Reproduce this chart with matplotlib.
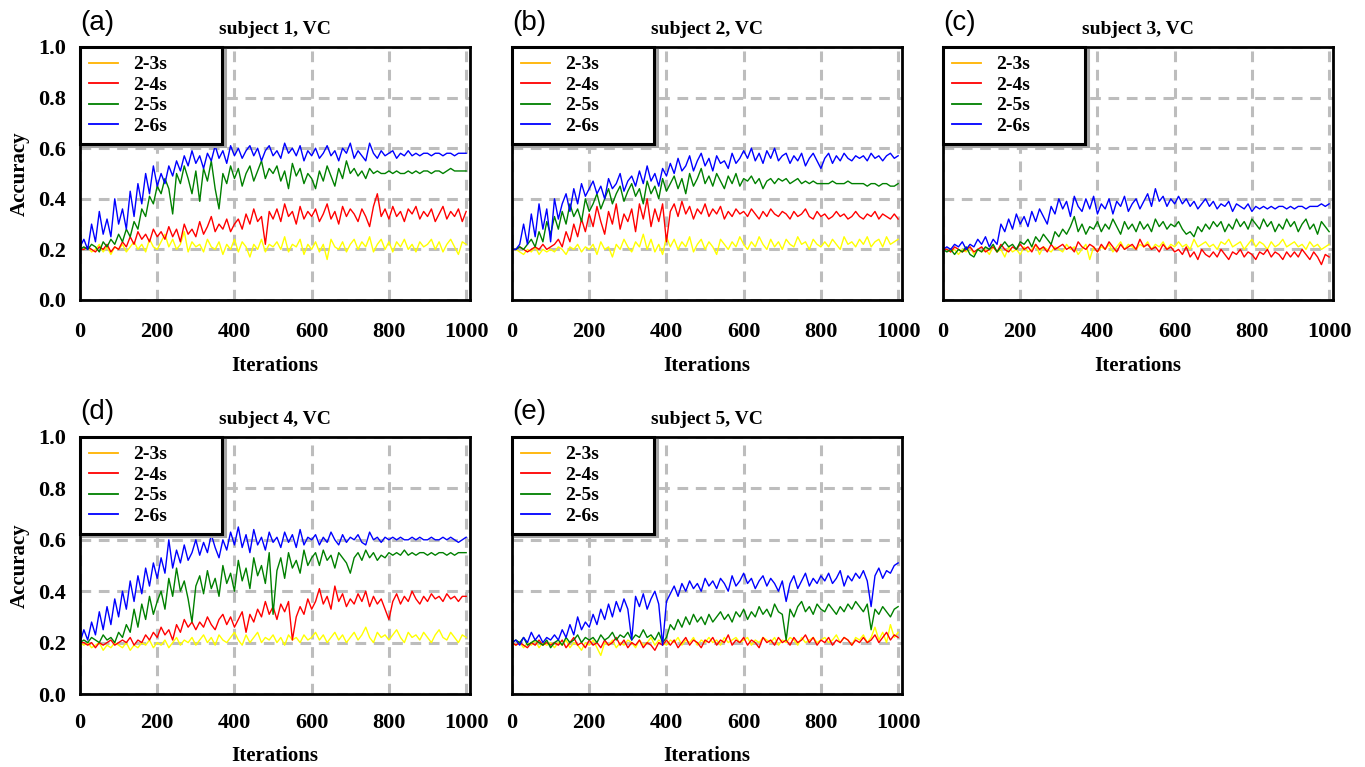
import numpy as np
import matplotlib
matplotlib.use("Agg")
import matplotlib.pyplot as plt
from matplotlib.lines import Line2D

# iterations sampled every 10 steps (0..1000)
iterations = np.arange(0, 1001, 10)
labels = ["2-3s", "2-4s", "2-5s", "2-6s"]
titles = ["subject 1, VC", "subject 2, VC", "subject 3, VC", "subject 4, VC", "subject 5, VC"]
panel_tags = ["(a)", "(b)", "(c)", "(d)", "(e)"]

# ---- subject 1 ----
s1_23 = [0.20,0.20,0.21,0.19,0.20,0.22,0.19,0.21,0.18,0.21,0.20,
         0.22,0.19,0.21,0.23,0.20,0.22,0.19,0.24,0.21,0.20,
         0.23,0.26,0.21,0.24,0.20,0.22,0.27,0.19,0.23,0.21,
         0.22,0.19,0.24,0.21,0.20,0.23,0.18,0.22,0.20,0.24,
         0.19,0.23,0.21,0.17,0.22,0.20,0.24,0.19,0.22,0.21,
         0.23,0.20,0.25,0.19,0.22,0.21,0.24,0.18,0.22,0.20,
         0.23,0.19,0.22,0.16,0.24,0.21,0.20,0.23,0.19,0.22,
         0.24,0.20,0.23,0.21,0.25,0.19,0.22,0.24,0.20,0.23,
         0.19,0.23,0.21,0.24,0.20,0.22,0.19,0.23,0.21,0.22,
         0.24,0.20,0.23,0.19,0.22,0.24,0.21,0.18,0.23,0.22]
s1_24 = [0.20,0.20,0.21,0.20,0.19,0.21,0.20,0.22,0.19,0.21,0.20,
         0.23,0.21,0.25,0.22,0.27,0.24,0.26,0.23,0.28,0.25,
         0.27,0.24,0.29,0.25,0.28,0.23,0.30,0.26,0.28,0.25,
         0.31,0.26,0.29,0.33,0.27,0.30,0.28,0.32,0.27,0.30,
         0.32,0.28,0.34,0.30,0.36,0.31,0.33,0.22,0.35,0.32,
         0.36,0.31,0.38,0.33,0.35,0.30,0.37,0.32,0.35,0.33,
         0.36,0.31,0.34,0.38,0.32,0.35,0.30,0.37,0.33,0.36,
         0.34,0.31,0.36,0.33,0.29,0.37,0.42,0.33,0.36,0.32,
         0.37,0.33,0.35,0.31,0.36,0.34,0.37,0.32,0.35,0.33,
         0.36,0.31,0.34,0.37,0.32,0.35,0.33,0.36,0.31,0.35]
s1_25 = [0.20,0.21,0.20,0.22,0.21,0.19,0.23,0.21,0.24,0.22,0.26,
         0.23,0.28,0.25,0.31,0.28,0.36,0.33,0.41,0.38,0.45,
         0.42,0.48,0.44,0.34,0.50,0.46,0.53,0.48,0.42,0.51,
         0.39,0.52,0.47,0.55,0.44,0.36,0.50,0.46,0.53,0.48,
         0.52,0.45,0.50,0.53,0.47,0.51,0.55,0.48,0.52,0.50,
         0.53,0.47,0.51,0.44,0.54,0.49,0.52,0.46,0.50,0.48,
         0.44,0.51,0.47,0.53,0.49,0.45,0.52,0.48,0.55,0.50,
         0.52,0.49,0.51,0.48,0.52,0.50,0.51,0.50,0.50,0.51,
         0.50,0.51,0.50,0.50,0.51,0.50,0.51,0.50,0.51,0.51,
         0.50,0.51,0.51,0.50,0.51,0.52,0.51,0.51,0.51,0.51]
s1_26 = [0.21,0.24,0.20,0.30,0.23,0.35,0.26,0.32,0.25,0.40,0.30,
         0.36,0.28,0.43,0.33,0.46,0.38,0.50,0.42,0.53,0.45,
         0.50,0.46,0.53,0.49,0.55,0.51,0.57,0.53,0.59,0.54,
         0.57,0.52,0.58,0.55,0.61,0.56,0.59,0.54,0.61,0.57,
         0.60,0.56,0.59,0.61,0.57,0.60,0.55,0.59,0.61,0.57,
         0.59,0.56,0.62,0.58,0.60,0.57,0.61,0.55,0.59,0.57,
         0.60,0.56,0.58,0.61,0.57,0.59,0.55,0.60,0.58,0.62,
         0.56,0.59,0.57,0.55,0.62,0.58,0.56,0.59,0.57,0.58,
         0.59,0.56,0.58,0.57,0.59,0.57,0.58,0.57,0.58,0.58,
         0.57,0.58,0.58,0.57,0.58,0.58,0.57,0.58,0.58,0.58]

# ---- subject 2 ----
s2_23 = [0.20,0.20,0.19,0.18,0.20,0.19,0.21,0.18,0.20,0.19,0.20,
         0.19,0.21,0.20,0.18,0.21,0.20,0.22,0.19,0.21,0.20,
         0.22,0.18,0.23,0.20,0.21,0.17,0.22,0.20,0.24,0.21,
         0.19,0.23,0.21,0.26,0.20,0.24,0.19,0.22,0.18,0.25,
         0.21,0.24,0.20,0.23,0.21,0.25,0.19,0.22,0.24,0.20,
         0.23,0.21,0.18,0.24,0.22,0.20,0.23,0.21,0.25,0.22,
         0.20,0.23,0.21,0.25,0.22,0.20,0.24,0.21,0.23,0.20,
         0.24,0.22,0.21,0.25,0.22,0.23,0.20,0.24,0.22,0.21,
         0.23,0.21,0.24,0.22,0.20,0.25,0.22,0.23,0.21,0.24,
         0.22,0.25,0.21,0.23,0.24,0.21,0.25,0.22,0.23,0.24]
s2_24 = [0.20,0.20,0.21,0.20,0.19,0.20,0.21,0.20,0.22,0.20,0.21,
         0.22,0.24,0.21,0.27,0.23,0.30,0.25,0.32,0.27,0.34,
         0.29,0.37,0.31,0.26,0.35,0.30,0.38,0.28,0.34,0.31,
         0.36,0.27,0.38,0.32,0.40,0.29,0.36,0.31,0.38,0.23,
         0.35,0.38,0.33,0.39,0.34,0.37,0.32,0.36,0.34,0.38,
         0.33,0.36,0.34,0.37,0.32,0.35,0.33,0.36,0.34,0.35,
         0.33,0.36,0.34,0.32,0.35,0.33,0.36,0.34,0.33,0.35,
         0.34,0.32,0.35,0.33,0.34,0.36,0.33,0.32,0.35,0.33,
         0.34,0.32,0.33,0.35,0.33,0.34,0.32,0.33,0.35,0.33,
         0.32,0.34,0.33,0.35,0.32,0.34,0.33,0.32,0.34,0.32]
s2_25 = [0.20,0.20,0.21,0.20,0.22,0.24,0.21,0.27,0.23,0.31,0.26,
         0.33,0.28,0.35,0.30,0.38,0.33,0.36,0.31,0.40,0.35,
         0.38,0.42,0.36,0.40,0.44,0.38,0.42,0.45,0.39,0.43,
         0.46,0.41,0.44,0.38,0.47,0.42,0.45,0.40,0.48,0.43,
         0.46,0.49,0.44,0.48,0.42,0.50,0.45,0.48,0.52,0.46,
         0.49,0.45,0.50,0.47,0.44,0.49,0.46,0.50,0.45,0.48,
         0.47,0.49,0.46,0.48,0.44,0.47,0.48,0.46,0.48,0.47,
         0.48,0.46,0.47,0.48,0.46,0.47,0.46,0.47,0.46,0.46,
         0.46,0.46,0.47,0.46,0.46,0.46,0.47,0.46,0.46,0.46,
         0.46,0.45,0.46,0.46,0.45,0.46,0.46,0.45,0.45,0.46]
s2_26 = [0.20,0.20,0.22,0.30,0.22,0.34,0.25,0.38,0.28,0.36,0.23,
         0.40,0.32,0.38,0.42,0.35,0.44,0.38,0.46,0.41,0.44,
         0.47,0.42,0.45,0.40,0.48,0.44,0.46,0.50,0.43,0.47,
         0.49,0.45,0.51,0.46,0.53,0.47,0.50,0.45,0.52,0.49,
         0.54,0.50,0.56,0.51,0.53,0.57,0.51,0.55,0.58,0.53,
         0.56,0.51,0.57,0.54,0.55,0.52,0.58,0.54,0.56,0.59,
         0.56,0.60,0.55,0.58,0.54,0.59,0.56,0.60,0.55,0.57,
         0.58,0.54,0.57,0.55,0.58,0.53,0.56,0.58,0.55,0.52,
         0.56,0.58,0.54,0.57,0.55,0.58,0.56,0.55,0.57,0.56,
         0.57,0.55,0.58,0.56,0.57,0.55,0.57,0.58,0.56,0.57]

# ---- subject 3 ----
s3_23 = [0.20,0.20,0.19,0.20,0.18,0.20,0.19,0.21,0.18,0.20,0.19,
         0.20,0.18,0.21,0.19,0.20,0.17,0.21,0.19,0.20,0.18,
         0.21,0.19,0.20,0.22,0.18,0.21,0.20,0.19,0.21,0.20,
         0.19,0.22,0.20,0.21,0.18,0.20,0.22,0.16,0.21,0.19,
         0.21,0.20,0.22,0.19,0.21,0.23,0.20,0.22,0.21,0.20,
         0.22,0.21,0.23,0.20,0.22,0.21,0.23,0.20,0.22,0.21,
         0.23,0.21,0.22,0.20,0.24,0.21,0.22,0.23,0.21,0.22,
         0.20,0.23,0.22,0.24,0.21,0.22,0.23,0.20,0.22,0.24,
         0.21,0.23,0.22,0.20,0.23,0.21,0.22,0.24,0.21,0.22,
         0.23,0.21,0.22,0.20,0.23,0.21,0.22,0.20,0.21,0.22]
s3_24 = [0.20,0.20,0.19,0.21,0.20,0.19,0.20,0.21,0.19,0.20,0.21,
         0.19,0.20,0.21,0.19,0.22,0.20,0.19,0.21,0.20,0.22,
         0.20,0.21,0.19,0.22,0.20,0.21,0.19,0.22,0.20,0.21,
         0.22,0.20,0.21,0.19,0.23,0.21,0.20,0.22,0.21,0.19,
         0.22,0.20,0.23,0.21,0.19,0.22,0.20,0.21,0.22,0.20,
         0.24,0.21,0.22,0.20,0.21,0.19,0.22,0.20,0.21,0.19,
         0.20,0.18,0.21,0.17,0.19,0.16,0.20,0.18,0.17,0.19,
         0.17,0.20,0.18,0.16,0.19,0.18,0.20,0.17,0.19,0.18,
         0.16,0.19,0.18,0.20,0.17,0.19,0.18,0.16,0.19,0.17,
         0.19,0.17,0.20,0.18,0.16,0.19,0.17,0.14,0.18,0.17]
s3_25 = [0.20,0.19,0.20,0.18,0.20,0.19,0.21,0.18,0.17,0.20,0.19,
         0.21,0.20,0.22,0.19,0.21,0.23,0.21,0.22,0.20,0.23,
         0.22,0.24,0.21,0.25,0.23,0.26,0.24,0.22,0.27,0.25,
         0.28,0.26,0.29,0.33,0.27,0.30,0.26,0.29,0.28,0.31,
         0.27,0.30,0.28,0.32,0.29,0.26,0.31,0.28,0.30,0.27,
         0.31,0.28,0.30,0.27,0.32,0.29,0.31,0.28,0.30,0.29,
         0.31,0.28,0.26,0.27,0.25,0.29,0.27,0.30,0.28,0.31,
         0.29,0.31,0.27,0.30,0.28,0.32,0.29,0.31,0.28,0.32,
         0.30,0.28,0.32,0.29,0.31,0.27,0.30,0.28,0.32,0.29,
         0.31,0.27,0.30,0.32,0.28,0.30,0.26,0.31,0.29,0.27]
s3_26 = [0.20,0.21,0.20,0.22,0.21,0.23,0.20,0.22,0.21,0.24,0.22,
         0.25,0.21,0.24,0.22,0.30,0.27,0.32,0.28,0.34,0.30,
         0.33,0.29,0.35,0.31,0.36,0.33,0.30,0.37,0.34,0.40,
         0.36,0.39,0.33,0.41,0.37,0.35,0.40,0.36,0.41,0.34,
         0.38,0.36,0.40,0.34,0.39,0.37,0.41,0.35,0.38,0.40,
         0.36,0.39,0.42,0.37,0.44,0.39,0.41,0.37,0.40,0.38,
         0.41,0.38,0.40,0.37,0.39,0.36,0.38,0.40,0.37,0.39,
         0.36,0.38,0.37,0.39,0.35,0.38,0.37,0.36,0.38,0.35,
         0.37,0.36,0.37,0.36,0.37,0.36,0.37,0.37,0.36,0.37,
         0.36,0.37,0.37,0.36,0.37,0.37,0.37,0.38,0.37,0.38]

# ---- subject 4 ----
s4_23 = [0.20,0.19,0.20,0.18,0.19,0.20,0.17,0.19,0.18,0.20,0.19,
         0.18,0.20,0.17,0.19,0.18,0.20,0.19,0.21,0.18,0.20,
         0.19,0.21,0.18,0.20,0.22,0.19,0.21,0.20,0.22,0.19,
         0.21,0.23,0.20,0.22,0.19,0.23,0.21,0.20,0.22,0.24,
         0.21,0.19,0.23,0.20,0.22,0.24,0.20,0.22,0.21,0.23,
         0.20,0.22,0.19,0.23,0.21,0.22,0.20,0.23,0.21,0.22,
         0.24,0.21,0.23,0.20,0.22,0.24,0.21,0.23,0.20,0.22,
         0.24,0.21,0.23,0.26,0.22,0.20,0.24,0.22,0.23,0.21,
         0.23,0.25,0.22,0.20,0.24,0.22,0.23,0.21,0.24,0.22,
         0.20,0.23,0.25,0.22,0.21,0.24,0.22,0.20,0.23,0.22]
s4_24 = [0.20,0.20,0.19,0.20,0.18,0.20,0.19,0.20,0.21,0.19,0.20,
         0.21,0.20,0.22,0.19,0.21,0.20,0.23,0.21,0.24,0.22,
         0.26,0.23,0.25,0.21,0.27,0.24,0.29,0.26,0.28,0.25,
         0.28,0.26,0.30,0.27,0.25,0.29,0.31,0.27,0.30,0.26,
         0.29,0.32,0.24,0.31,0.28,0.33,0.30,0.36,0.31,0.34,
         0.29,0.35,0.32,0.36,0.21,0.30,0.34,0.31,0.37,0.33,
         0.36,0.41,0.35,0.38,0.33,0.42,0.36,0.39,0.34,0.37,
         0.35,0.39,0.36,0.40,0.34,0.38,0.35,0.37,0.33,0.29,
         0.36,0.39,0.35,0.38,0.36,0.40,0.37,0.35,0.38,0.36,
         0.39,0.37,0.38,0.36,0.39,0.37,0.38,0.36,0.38,0.38]
s4_25 = [0.20,0.21,0.20,0.22,0.21,0.20,0.23,0.21,0.22,0.20,0.24,
         0.22,0.27,0.24,0.33,0.26,0.35,0.29,0.38,0.31,0.36,
         0.40,0.33,0.45,0.38,0.49,0.40,0.44,0.37,0.28,0.42,
         0.46,0.39,0.48,0.41,0.45,0.38,0.50,0.43,0.47,0.40,
         0.52,0.44,0.49,0.41,0.53,0.46,0.50,0.43,0.55,0.31,
         0.48,0.53,0.45,0.55,0.49,0.52,0.47,0.56,0.50,0.53,
         0.55,0.50,0.56,0.52,0.54,0.49,0.55,0.53,0.51,0.47,
         0.53,0.55,0.52,0.56,0.53,0.55,0.52,0.54,0.53,0.55,
         0.54,0.55,0.54,0.56,0.54,0.55,0.54,0.55,0.55,0.54,
         0.55,0.54,0.55,0.55,0.54,0.55,0.54,0.55,0.55,0.55]
s4_26 = [0.20,0.25,0.21,0.28,0.23,0.32,0.25,0.34,0.27,0.37,0.30,
         0.40,0.33,0.44,0.36,0.46,0.39,0.49,0.42,0.51,0.45,
         0.53,0.47,0.60,0.49,0.56,0.51,0.58,0.52,0.55,0.60,
         0.54,0.59,0.55,0.62,0.57,0.53,0.60,0.56,0.63,0.58,
         0.65,0.57,0.62,0.55,0.64,0.58,0.61,0.56,0.63,0.59,
         0.61,0.57,0.63,0.59,0.62,0.57,0.64,0.58,0.61,0.60,
         0.62,0.58,0.61,0.59,0.63,0.60,0.58,0.62,0.59,0.61,
         0.60,0.62,0.59,0.58,0.63,0.60,0.61,0.59,0.61,0.60,
         0.61,0.60,0.61,0.60,0.60,0.61,0.60,0.61,0.60,0.60,
         0.61,0.60,0.60,0.61,0.60,0.61,0.60,0.59,0.60,0.61]

# ---- subject 5 ----
s5_23 = [0.20,0.19,0.20,0.18,0.20,0.19,0.21,0.18,0.20,0.19,0.20,
         0.18,0.20,0.19,0.21,0.18,0.20,0.19,0.17,0.20,0.19,
         0.21,0.18,0.15,0.20,0.19,0.21,0.18,0.20,0.19,0.21,
         0.20,0.18,0.21,0.19,0.20,0.22,0.19,0.21,0.20,0.19,
         0.21,0.20,0.22,0.19,0.21,0.20,0.22,0.19,0.21,0.20,
         0.22,0.20,0.21,0.19,0.22,0.20,0.21,0.22,0.20,0.21,
         0.22,0.19,0.21,0.20,0.22,0.21,0.20,0.22,0.19,0.21,
         0.20,0.22,0.21,0.19,0.22,0.20,0.21,0.22,0.20,0.21,
         0.22,0.20,0.21,0.23,0.20,0.22,0.21,0.19,0.22,0.21,
         0.23,0.20,0.22,0.26,0.21,0.24,0.20,0.27,0.22,0.24]
s5_24 = [0.20,0.19,0.20,0.19,0.18,0.20,0.19,0.21,0.19,0.20,0.19,
         0.20,0.19,0.21,0.18,0.20,0.22,0.19,0.20,0.18,0.21,
         0.19,0.20,0.18,0.21,0.19,0.20,0.22,0.19,0.21,0.18,
         0.20,0.19,0.21,0.18,0.20,0.19,0.17,0.20,0.19,0.21,
         0.19,0.21,0.18,0.20,0.22,0.19,0.21,0.20,0.18,0.21,
         0.20,0.22,0.19,0.21,0.20,0.23,0.19,0.21,0.20,0.22,
         0.19,0.21,0.20,0.18,0.22,0.20,0.21,0.19,0.22,0.20,
         0.21,0.19,0.22,0.20,0.21,0.23,0.20,0.22,0.19,0.21,
         0.20,0.22,0.19,0.21,0.20,0.22,0.21,0.19,0.21,0.20,
         0.22,0.20,0.21,0.23,0.20,0.22,0.24,0.21,0.23,0.22]
s5_25 = [0.20,0.21,0.20,0.22,0.19,0.20,0.21,0.20,0.19,0.21,0.18,
         0.20,0.21,0.19,0.22,0.20,0.21,0.23,0.20,0.22,0.21,
         0.22,0.20,0.23,0.21,0.22,0.24,0.21,0.23,0.22,0.24,
         0.21,0.23,0.22,0.25,0.22,0.23,0.21,0.24,0.20,0.22,
         0.27,0.25,0.29,0.26,0.30,0.27,0.31,0.28,0.30,0.27,
         0.31,0.28,0.30,0.32,0.29,0.31,0.28,0.32,0.30,0.33,
         0.29,0.32,0.30,0.34,0.31,0.33,0.30,0.35,0.32,0.31,
         0.21,0.33,0.30,0.34,0.36,0.32,0.34,0.31,0.35,0.33,
         0.32,0.35,0.33,0.31,0.34,0.32,0.35,0.33,0.36,0.34,
         0.32,0.35,0.25,0.33,0.31,0.34,0.32,0.30,0.33,0.34]
s5_26 = [0.20,0.21,0.19,0.22,0.20,0.24,0.21,0.23,0.20,0.22,0.21,
         0.23,0.21,0.25,0.22,0.27,0.23,0.30,0.25,0.28,0.26,
         0.31,0.27,0.33,0.29,0.35,0.30,0.36,0.32,0.37,0.33,
         0.21,0.38,0.34,0.39,0.33,0.37,0.40,0.35,0.19,0.36,
         0.39,0.42,0.38,0.43,0.40,0.44,0.41,0.43,0.40,0.45,
         0.42,0.44,0.41,0.45,0.43,0.40,0.46,0.42,0.44,0.47,
         0.43,0.45,0.41,0.44,0.46,0.42,0.45,0.43,0.40,0.44,
         0.36,0.43,0.46,0.41,0.44,0.47,0.42,0.45,0.43,0.46,
         0.44,0.47,0.43,0.45,0.48,0.42,0.46,0.44,0.47,0.45,
         0.48,0.44,0.34,0.46,0.49,0.45,0.48,0.47,0.50,0.51]

subjects = [
    [s1_23, s1_24, s1_25, s1_26],
    [s2_23, s2_24, s2_25, s2_26],
    [s3_23, s3_24, s3_25, s3_26],
    [s4_23, s4_24, s4_25, s4_26],
    [s5_23, s5_24, s5_25, s5_26],
]

line_colors = ["#FFFF00", "#FF0000", "#008000", "#0000FF"]
legend_colors = ["#FFB300", "#FF0000", "#008000", "#0000FF"]

serif = "Liberation Serif"

fig = plt.figure(figsize=(13.65, 7.67), dpi=100)

W, H = 1365.0, 767.0
# pixel boxes: left, top, right, bottom
boxes = [
    (80, 47, 470, 300),
    (512, 47, 902, 300),
    (943, 47, 1333, 300),
    (80, 437, 470, 694),
    (512, 437, 902, 694),
]

for i, (series, box) in enumerate(zip(subjects, boxes)):
    l, t, r, b = box
    bottom_row = i >= 3
    ax = fig.add_axes([l / W, 1 - b / H, (r - l) / W, (b - t) / H])
    for vals, c in zip(series, line_colors):
        ax.plot(iterations, vals, color=c, lw=1.0)

    ax.set_xlim(0, 1010)
    ax.set_ylim(0, 1.0)
    ax.set_xticks([0, 200, 400, 600, 800, 1000])
    ax.set_yticks([0.0, 0.2, 0.4, 0.6, 0.8, 1.0])
    ax.set_axisbelow(True)
    ax.grid(True, color="#BDBDBD", linestyle=(0, (3.5, 2.5)), lw=2.2)
    ax.tick_params(length=0, labelsize=16)
    ax.tick_params(axis="x", pad=14 if bottom_row else 16)
    ax.tick_params(axis="y", pad=10)
    for lab in ax.get_xticklabels() + ax.get_yticklabels():
        lab.set_fontfamily(serif)
        lab.set_fontweight("bold")
    for sp in ax.spines.values():
        sp.set_linewidth(2.0)
        sp.set_color("black")

    if i in (0, 3):
        ax.yaxis.set_major_formatter(matplotlib.ticker.FormatStrFormatter("%.1f"))
        ax.set_ylabel("Accuracy", fontsize=15, fontweight="bold", family=serif, labelpad=6)
    else:
        ax.set_yticklabels([])

    ax.set_xlabel("Iterations", fontsize=15, fontweight="bold", family=serif,
                  labelpad=9 if bottom_row else 10)
    ax.set_title(titles[i], fontsize=14, fontweight="bold", family=serif, pad=9)
    ax.text(0.0, 1.045, panel_tags[i], transform=ax.transAxes, fontsize=20,
            family="Liberation Sans", ha="left", va="bottom")

    handles = [Line2D([0], [0], color=c, lw=1.3) for c in legend_colors]
    leg = ax.legend(handles, labels, loc="upper left", bbox_to_anchor=(0.0, 0.63, 0.365, 0.37),
                    mode="expand", borderaxespad=0.0, fancybox=False, framealpha=1.0,
                    edgecolor="black", shadow={"color": "0.65", "alpha": 1.0},
                    handlelength=1.5, handletextpad=0.8, labelspacing=0.15, borderpad=0.45,
                    prop={"family": serif, "weight": "bold", "size": 14})
    leg.get_frame().set_linewidth(2.2)

fig.savefig("out.png", dpi=100)
